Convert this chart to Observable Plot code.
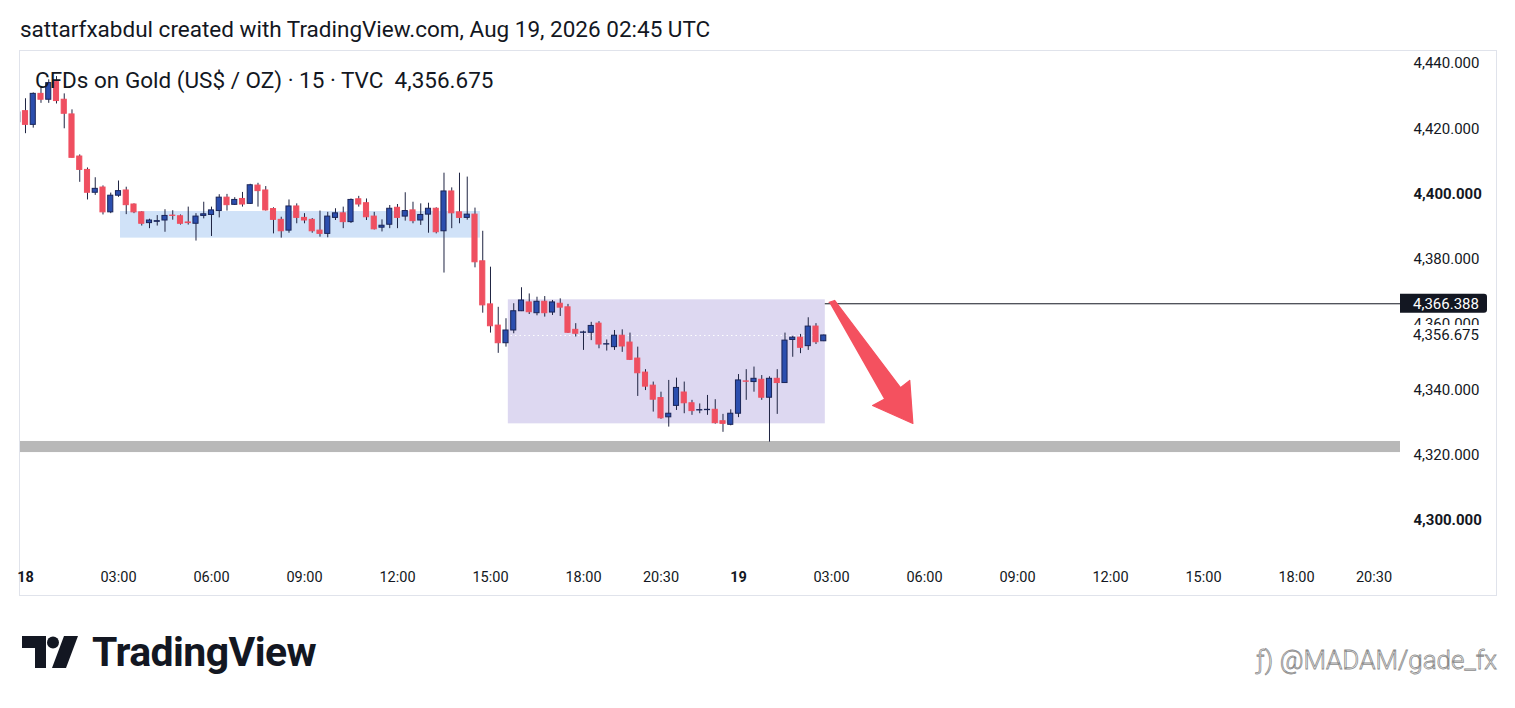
<!DOCTYPE html>
<html><head><meta charset="utf-8">
<script src="https://cdn.jsdelivr.net/npm/d3@7"></script>
<script src="https://cdn.jsdelivr.net/npm/@observablehq/plot@0.6"></script>
<style>
body{margin:0;background:#fff;font-family:Roboto,"Noto Sans",sans-serif;color:#131722;width:1515px;height:708px;overflow:hidden;position:relative}
#hdr{position:absolute;left:20px;top:14px;font-size:22.5px;line-height:30px;white-space:nowrap}
#box{position:absolute;left:19px;top:50px;width:1478px;height:546px;border:1px solid #e0e3eb;box-sizing:border-box}
#chart{position:absolute;left:19px;top:50px}
#title{position:absolute;left:35px;top:65px;font-size:22.5px;line-height:30px;white-space:nowrap}
#logo{position:absolute;left:22px;top:630px;display:flex;align-items:center;gap:14px}
#logo span{font-size:41px;font-weight:700;letter-spacing:-0.6px;line-height:44px}
#wm{position:absolute;right:18px;top:645px;font-size:26px;color:#fff;-webkit-text-stroke:0.8px #8c8c8c;white-space:nowrap;font-weight:300}
</style></head>
<body>
<div id="hdr">sattarfxabdul created with TradingView.com, Aug 19, 2026 02:45 UTC</div>
<div id="box"></div>
<div id="chart"></div>
<div id="title">CFDs on Gold (US$ / OZ) · 15 · TVC&nbsp; 4,356.675</div>
<div id="logo"><svg width="56" height="32" viewBox="0 0 56 32"><path d="M0 0H24V32H13V12H0Z" fill="#131722"/><circle cx="31" cy="6.5" r="6" fill="#131722"/><path d="M42 0H56L44 32H30Z" fill="#131722"/></svg><span>TradingView</span></div>
<div id="wm">ƒ) @MADAM/gade_fx</div>
<script>
// 15-minute candles, first slot = 17 Aug 23:45 UTC (slot -1), slot 0 = 18 Aug 00:00
const firstSlot = -1;
const open  = [4422.0,4425.4,4421.2,4430.7,4428.9,4434.3,4428.9,4424.4,4411.5,4407.4,4400.4,4402.0,4394.4,4399.5,4401.1,4396.8,4394.4,4391.1,4391.5,4391.9,4393.4,4393.2,4391.3,4390.9,4393.3,4393.6,4394.8,4398.9,4396.7,4398.5,4397.0,4402.6,4401.1,4395.4,4392.1,4388.8,4396.2,4392.7,4392.1,4388.8,4387.8,4392.7,4394.1,4391.4,4398.4,4397.2,4393.1,4389.7,4390.6,4395.8,4393.1,4395.0,4391.9,4393.7,4395.5,4388.6,4400.8,4394.4,4392.7,4393.7,4379.4,4366.2,4359.7,4354.3,4358.2,4364.1,4366.8,4363.5,4367.0,4363.7,4366.4,4365.3,4358.4,4357.5,4357.5,4360.3,4353.9,4353.1,4356.6,4354.5,4349.6,4345.3,4341.3,4337.5,4331.6,4335.1,4339.2,4335.9,4333.7,4333.8,4333.9,4330.4,4329.3,4332.7,4342.6,4342.4,4343.1,4337.6,4343.4,4342.1,4355.3,4356.0,4353.4,4359.4,4354.9];
const high  = [4425.5,4429.2,4431.0,4432.6,4435.0,4436.0,4430.7,4425.8,4412.0,4408.0,4405.0,4402.5,4400.3,4404.0,4402.1,4397.0,4394.6,4392.3,4393.4,4395.2,4394.9,4393.6,4396.0,4394.0,4397.5,4396.0,4399.8,4399.9,4398.9,4400.5,4403.0,4403.3,4402.3,4395.8,4392.9,4398.2,4397.0,4394.0,4392.5,4394.8,4394.4,4395.5,4396.0,4398.5,4399.3,4398.5,4394.4,4392.1,4396.5,4396.8,4400.4,4397.5,4397.0,4397.2,4395.8,4406.4,4401.9,4406.4,4405.2,4395.7,4388.6,4377.6,4365.3,4361.8,4366.4,4371.3,4369.4,4368.4,4368.6,4367.4,4367.9,4366.2,4360.3,4358.0,4360.7,4360.9,4355.3,4358.2,4358.4,4357.4,4353.1,4346.2,4342.4,4339.3,4342.9,4343.6,4342.4,4336.8,4335.7,4338.3,4337.0,4332.5,4333.9,4344.7,4346.2,4347.0,4344.4,4344.0,4346.2,4357.4,4356.4,4357.0,4362.1,4360.3,4356.8];
const low   = [4421.5,4418.5,4420.2,4427.8,4427.8,4427.6,4420.0,4411.0,4403.6,4398.2,4399.6,4393.6,4394.0,4399.0,4393.7,4394.0,4390.2,4389.4,4390.2,4388.3,4392.0,4390.5,4390.5,4385.6,4392.4,4387.0,4392.7,4394.8,4396.5,4396.0,4396.8,4396.0,4394.8,4387.8,4386.5,4388.0,4390.9,4390.9,4388.0,4386.8,4386.6,4391.9,4389.4,4391.0,4396.0,4391.9,4389.0,4388.4,4389.4,4389.4,4391.7,4390.9,4390.4,4388.0,4387.8,4375.8,4389.4,4390.9,4392.0,4377.4,4363.5,4357.4,4351.2,4353.1,4357.2,4364.0,4363.1,4362.7,4362.3,4362.8,4362.5,4357.3,4356.2,4352.1,4355.1,4352.6,4351.9,4352.1,4351.5,4349.0,4338.0,4339.8,4333.2,4331.0,4328.6,4333.7,4332.7,4332.2,4332.7,4332.2,4329.5,4327.0,4329.0,4331.5,4336.8,4339.3,4336.8,4324.0,4332.5,4342.0,4350.0,4351.1,4352.1,4353.9,4354.8];
const close = [4425.0,4421.2,4430.7,4428.9,4434.0,4428.5,4424.6,4411.1,4407.4,4400.4,4401.6,4394.4,4399.5,4400.9,4396.6,4394.4,4390.9,4391.9,4391.7,4393.3,4393.3,4390.9,4391.1,4393.1,4393.8,4395.0,4398.9,4396.6,4398.2,4396.8,4402.7,4400.9,4395.0,4392.1,4388.6,4396.2,4392.7,4391.9,4388.6,4387.8,4393.1,4394.1,4391.4,4398.2,4396.8,4392.9,4389.2,4390.3,4395.5,4392.7,4394.8,4391.7,4393.6,4395.5,4388.3,4400.8,4394.1,4392.7,4393.7,4379.1,4365.9,4359.5,4354.3,4358.2,4364.1,4367.4,4363.8,4367.0,4363.5,4366.8,4365.2,4357.5,4357.2,4357.6,4359.6,4353.9,4354.0,4356.6,4353.3,4349.2,4345.1,4341.0,4337.0,4331.3,4332.7,4340.6,4335.9,4333.5,4333.8,4333.9,4329.8,4329.6,4332.7,4342.9,4342.5,4343.4,4337.6,4343.4,4342.1,4355.1,4356.0,4352.9,4359.4,4354.6,4356.675];

// time axis (slot positions of 15-min bars; market break 21:00-22:00)
const tickSlots  = [0,12,24,36,48,60,72,82,92,104,116,128,140,152,164,174];
const tickLabels = ["18","03:00","06:00","09:00","12:00","15:00","18:00","20:30","19","03:00","06:00","09:00","12:00","15:00","18:00","20:30"];
const boldTimeLabels = ["18","19"];

// price axis
const priceTicks = [4300,4320,4340,4360,4380,4400,4420,4440];
const boldPriceTicks = [4300,4400];
const lastPrice = 4356.675;
const linePrice = 4366.388;

// drawings
const zoneBlue   = {x1:12.26, x2:58.7,  y1:4386.5, y2:4394.65};
const zonePurple = {x1:62.3,  x2:103.2, y1:4329.6, y2:4367.6};
const supportBand = {y1:4320.8, y2:4324.2};
const lineStartSlot = 103.2;
const arrowSlots  = [103.7, 104.4, 112.9, 114.1, 114.5, 109.3, 110.8];
const arrowPrices = [4366.8,4367.4,4340.7,4342.9,4329.7,4335.2,4337.1];

const candles = open.map((o,i)=>({slot:firstSlot+i, open:o, high:high[i], low:low[i], close:close[i]}));
const ups = candles.filter(d=>d.close>=d.open);
const downs = candles.filter(d=>d.close<d.open);
const arrow = arrowSlots.map((s,i)=>({x:s, y:arrowPrices[i]}));
const fmt = d3.format(",.3f");
const ticksNormal = priceTicks.filter(t=>!boldPriceTicks.includes(t));
const timeTicks = tickSlots.map((s,i)=>({s, t:tickLabels[i]}));

const UP="#2b4eae", UPB="#1a2558", DN="#ef4f60", WICK="#1f2442";
const hw = 0.33;
const xDomain=[-0.645,177.42];

const chart = Plot.plot({
  width:1477, height:545,
  marginLeft:1, marginRight:96, marginTop:1, marginBottom:35,
  x:{type:"linear", domain:xDomain, axis:null},
  y:{domain:[4287.73,4443.68], axis:null},
  style:{fontFamily:"Roboto, sans-serif", color:"#131722", background:"transparent", overflow:"visible"},
  marks:[
    Plot.rect([zoneBlue],{x1:"x1",x2:"x2",y1:"y1",y2:"y2",fill:"#d0e2f8"}),
    Plot.rect([zonePurple],{x1:"x1",x2:"x2",y1:"y1",y2:"y2",fill:"#ddd8f1"}),
    Plot.rect([supportBand],{y1:"y1",y2:"y2",fill:"#b8b8b8"}),
    Plot.ruleY([lastPrice],{stroke:"#ffffff",strokeDasharray:"1.5,3",strokeWidth:1}),
    Plot.ruleY([linePrice],{x1:lineStartSlot,x2:xDomain[1],stroke:"#131722",strokeWidth:1}),
    Plot.ruleX(candles,{x:"slot",y1:"low",y2:"high",stroke:WICK,strokeWidth:1,clip:true}),
    Plot.rect(downs,{x1:d=>d.slot-hw,x2:d=>d.slot+hw,y1:"open",y2:"close",fill:DN,stroke:DN,strokeWidth:1,clip:true}),
    Plot.rect(ups,{x1:d=>d.slot-hw,x2:d=>d.slot+hw,y1:"open",y2:"close",fill:UP,stroke:UPB,strokeWidth:1,clip:true}),
    Plot.line(arrow,{x:"x",y:"y",fill:"#f4515f",stroke:"#f4515f",strokeWidth:1.2,strokeLinejoin:"round"}),
    Plot.text(ticksNormal,{y:d=>d,text:d=>fmt(d),frameAnchor:"right",textAnchor:"start",dx:13,fontSize:15,fill:"#131722"}),
    Plot.text(boldPriceTicks,{y:d=>d,text:d=>fmt(d),frameAnchor:"right",textAnchor:"start",dx:13,fontSize:15,fontWeight:"bold",fill:"#131722"}),
    Plot.text(timeTicks.filter(d=>!boldTimeLabels.includes(d.t)),{x:"s",text:"t",frameAnchor:"bottom",dy:21,fontSize:14.5,fill:"#131722"}),
    Plot.text(timeTicks.filter(d=>boldTimeLabels.includes(d.t)),{x:"s",text:"t",frameAnchor:"bottom",dy:21,fontSize:14.5,fontWeight:"bold",fill:"#131722"})
  ]
});
document.getElementById("chart").appendChild(chart);

// price labels on the scale
const svg = d3.select(chart);
const ys = chart.scale("y");
const right = 1477-96;
const yLast = ys.apply(lastPrice), yLine = ys.apply(linePrice);
svg.append("rect").attr("x",right+2).attr("y",yLast-10).attr("width",88).attr("height",21).attr("fill","#fff");
svg.append("text").attr("x",right+13).attr("y",yLast).attr("dy","0.35em").attr("text-anchor","start").attr("font-size",15).attr("fill","#131722").text(fmt(lastPrice));
svg.append("path").attr("d",`M${right},${yLine-9.5}H${right+84}a3,3 0 0 1 3,3V${yLine+6.5}a3,3 0 0 1 -3,3H${right}Z`).attr("fill","#131722");
svg.append("text").attr("x",right+13).attr("y",yLine).attr("dy","0.35em").attr("text-anchor","start").attr("font-size",15).attr("fill","#fff").text(fmt(linePrice));
</script>
</body></html>
